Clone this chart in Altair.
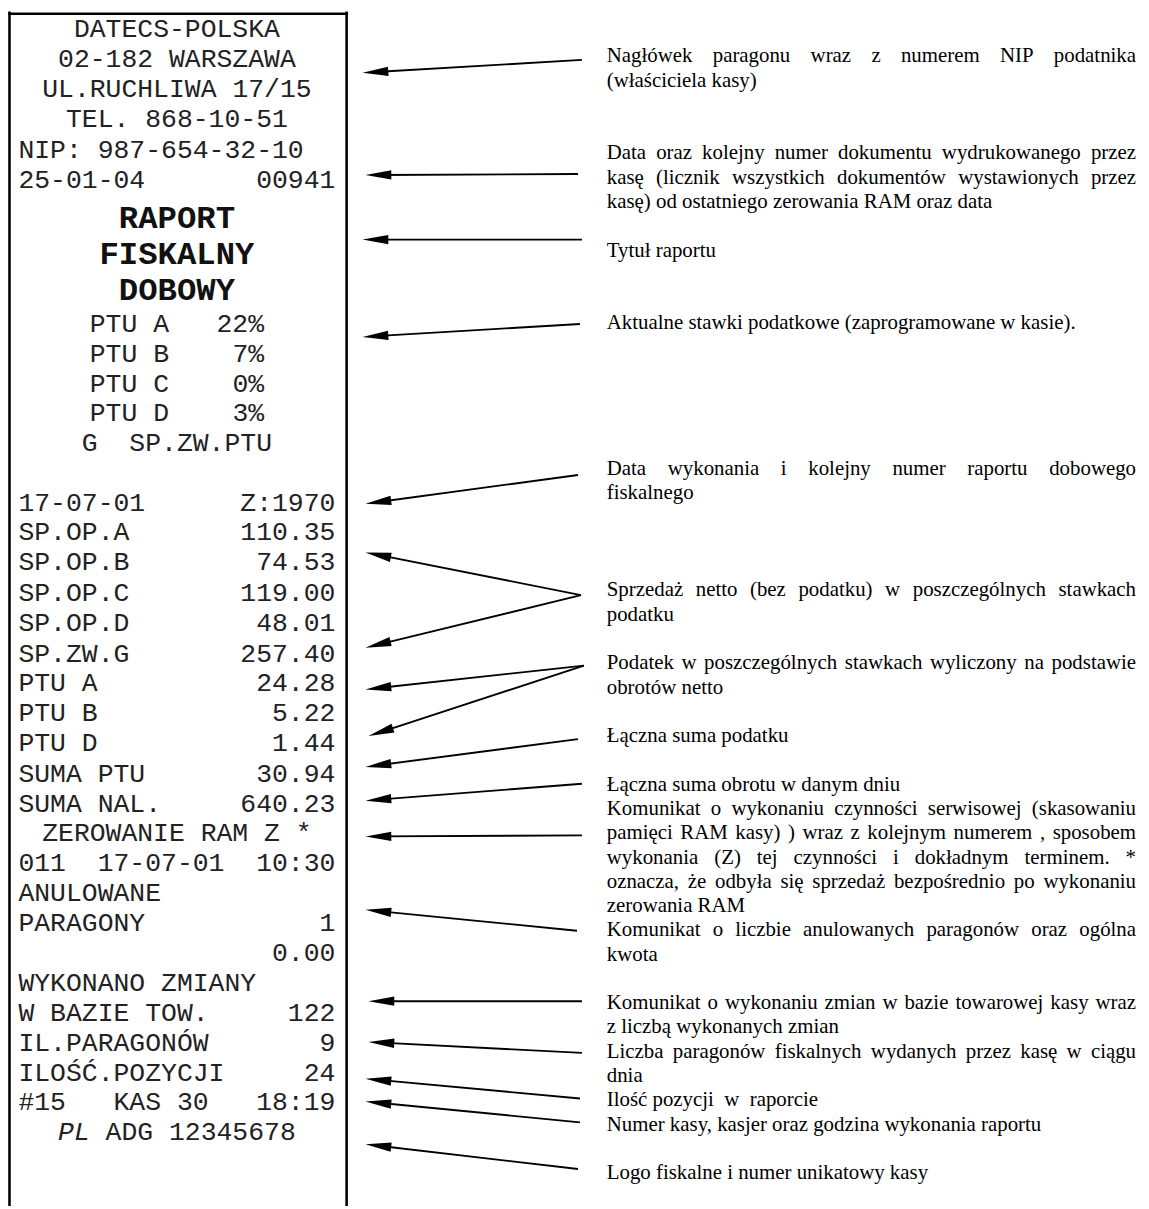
import math
import altair as alt
import pandas as pd

# ---------------- receipt content (20-column printout) ----------------
receipt_text = [
    "DATECS-POLSKA",
    "02-182 WARSZAWA",
    "UL.RUCHLIWA 17/15",
    "TEL. 868-10-51",
    "NIP: 987-654-32-10",
    "25-01-04       00941",
    "RAPORT",
    "FISKALNY",
    "DOBOWY",
    "PTU A   22%",
    "PTU B    7%",
    "PTU C    0%",
    "PTU D    3%",
    "G  SP.ZW.PTU",
    "17-07-01      Z:1970",
    "SP.OP.A       110.35",
    "SP.OP.B        74.53",
    "SP.OP.C       119.00",
    "SP.OP.D        48.01",
    "SP.ZW.G       257.40",
    "PTU A          24.28",
    "PTU B           5.22",
    "PTU D           1.44",
    "SUMA PTU       30.94",
    "SUMA NAL.     640.23",
    "ZEROWANIE RAM Z *",
    "011  17-07-01  10:30",
    "ANULOWANE",
    "PARAGONY           1",
    "                0.00",
    "WYKONANO ZMIANY",
    "W BAZIE TOW.     122",
    "IL.PARAGONÓW       9",
    "ILOŚĆ.POZYCJI     24",
    "#15   KAS 30   18:19",
    "PL ADG 12345678",
]
# c = centred, l = left (fixed columns), t = bold title, p = fiscal logo line
receipt_kind = ["c", "c", "c", "c", "l", "l", "t", "t", "t",
                "c", "c", "c", "c", "c",
                "l", "l", "l", "l", "l", "l", "l", "l", "l", "l", "l",
                "c",
                "l", "l", "l", "l", "l", "l", "l", "l", "l",
                "p"]
receipt_row_y = [24.5, 55, 85.5, 116, 146.5, 177,
                 215, 252, 288,
                 322, 352, 382, 412, 442,
                 502, 532, 562, 593, 623, 654, 684, 714, 744, 775, 805,
                 835, 865, 895, 925, 955, 986, 1016, 1046, 1076, 1106, 1136]

# ---------------- annotations ----------------
annot_paragraphs = [
    ["Nagłówek paragonu wraz z numerem NIP podatnika", "(właściciela kasy)"],
    ["Data oraz kolejny numer dokumentu wydrukowanego przez",
     "kasę (licznik wszystkich dokumentów wystawionych przez",
     "kasę) od ostatniego zerowania RAM oraz data"],
    ["Tytuł raportu"],
    ["Aktualne stawki podatkowe (zaprogramowane w kasie)."],
    ["Data wykonania i kolejny numer raportu dobowego", "fiskalnego"],
    ["Sprzedaż netto (bez podatku) w poszczególnych stawkach", "podatku"],
    ["Podatek w poszczególnych stawkach wyliczony na podstawie", "obrotów netto"],
    ["Łączna suma podatku"],
    ["Łączna suma obrotu w danym dniu"],
    ["Komunikat o wykonaniu czynności serwisowej (skasowaniu",
     "pamięci RAM kasy) ) wraz z kolejnym numerem , sposobem",
     "wykonania (Z) tej czynności i dokładnym terminem. *",
     "oznacza, że odbyła się sprzedaż bezpośrednio po wykonaniu",
     "zerowania RAM"],
    ["Komunikat o liczbie anulowanych paragonów oraz ogólna", "kwota"],
    ["Komunikat o wykonaniu zmian w bazie towarowej kasy wraz",
     "z liczbą wykonanych zmian"],
    ["Liczba paragonów fiskalnych wydanych przez kasę w ciągu", "dnia"],
    ["Ilość pozycji  w  raporcie"],
    ["Numer kasy, kasjer oraz godzina wykonania raportu"],
    ["Logo fiskalne i numer unikatowy kasy"],
]
annot_start_line = [0, 4, 8, 11, 17, 22, 25, 28, 30, 31, 36, 39, 41, 43, 44, 46]

# ---------------- arrows (tail -> tip) ----------------
arrow_tail_x = [586, 582, 586, 584, 582, 585, 585, 588, 588, 582, 586, 586, 581, 586, 586, 584, 584, 582]
arrow_tail_y = [56, 171, 237, 322, 474, 595, 595, 666, 666, 740, 785, 837, 933, 1004, 1056, 1102, 1126, 1173]
arrow_tip_x = [365, 368, 365, 365, 368, 368, 368, 368, 371, 368, 368, 368, 368, 371, 371, 368, 368, 368]
arrow_tip_y = [69, 172, 237, 335, 503, 552, 648, 690, 737, 768, 802, 838, 912, 1004, 1045, 1082, 1105, 1148]

# ---------------- layout / style constants ----------------
W, H = 1141, 1201
MONO = "Liberation Mono"
SERIF = "Liberation Serif"
MONO_SIZE = 26.6
TITLE_SIZE = 32.5
SERIF_SIZE = 21
COL0 = 18.5
PITCH = MONO_SIZE * 0.6
COLS = 20
ANN_L, ANN_R = 611.0, 1144.0
ANN_Y0, ANN_PITCH = 52.5, 24.45
RECEIPT_COLOR = "#222222"

TIMES_W = {' ': 250, '!': 333, '"': 408, '#': 500, '%': 833, '(': 333, ')': 333, '*': 500,
           ',': 250, '-': 333, '.': 250, '/': 278, ':': 278, ';': 278,
           'A': 722, 'B': 667, 'C': 667, 'D': 722, 'E': 611, 'F': 556, 'G': 722, 'H': 722,
           'I': 333, 'J': 389, 'K': 722, 'L': 611, 'M': 889, 'N': 722, 'O': 722, 'P': 556,
           'Q': 722, 'R': 667, 'S': 556, 'T': 611, 'U': 722, 'V': 722, 'W': 944, 'X': 722,
           'Y': 722, 'Z': 611,
           'a': 444, 'b': 500, 'c': 444, 'd': 500, 'e': 444, 'f': 333, 'g': 500, 'h': 500,
           'i': 278, 'j': 278, 'k': 500, 'l': 278, 'm': 778, 'n': 500, 'o': 500, 'p': 500,
           'q': 500, 'r': 333, 's': 389, 't': 278, 'u': 500, 'v': 500, 'w': 722, 'x': 500,
           'y': 500, 'z': 444,
           'ą': 444, 'ć': 444, 'ę': 444, 'ł': 278, 'ń': 500, 'ó': 500, 'ś': 389, 'ź': 444,
           'ż': 444, 'Ł': 611, 'Ś': 556, 'Ż': 611, 'Ó': 722}


def tw(s):
    return sum(TIMES_W.get(ch, 500) for ch in s) / 1000.0 * SERIF_SIZE


# ---- receipt runs ----
mono_rows, italic_rows, title_rows = [], [], []
for text, kind, y in zip(receipt_text, receipt_kind, receipt_row_y):
    if kind == "t":
        title_rows.append({"x": COL0 + PITCH * COLS / 2, "y": y, "text": text})
        continue
    start = 0.0 if kind == "l" else (COLS - len(text)) / 2.0
    i, first = 0, True
    while i < len(text):
        if text[i] == " ":
            i += 1
            continue
        j = i
        while j < len(text) and text[j] != " ":
            j += 1
        run = {"x": COL0 + (start + i) * PITCH, "y": y, "text": text[i:j]}
        if kind == "p" and first:
            italic_rows.append(run)
        else:
            mono_rows.append(run)
        first = False
        i = j

# ---- annotation words (justified like the original) ----
ann_left, ann_right = [], []
for para, start_line in zip(annot_paragraphs, annot_start_line):
    for k, line in enumerate(para):
        y = ANN_Y0 + ANN_PITCH * (start_line + k)
        last = k == len(para) - 1
        if last:
            ann_left.append({"x": ANN_L, "y": y, "text": line.replace("  ", " \u00a0")})
            continue
        words = line.split(" ")
        total = sum(tw(w) for w in words)
        gap = (ANN_R - ANN_L - total) / (len(words) - 1)
        xpos = ANN_L
        for n, w in enumerate(words):
            if n == len(words) - 1:
                ann_right.append({"x": ANN_R, "y": y, "text": w})
            else:
                ann_left.append({"x": xpos, "y": y, "text": w})
            xpos += tw(w) + gap

# ---- arrows ----
HEAD_LEN = 26.0
line_rows, head_rows = [], []
for tx, ty, px, py in zip(arrow_tail_x, arrow_tail_y, arrow_tip_x, arrow_tip_y):
    dx, dy = px - tx, py - ty
    d = math.hypot(dx, dy)
    ux, uy = dx / d, dy / d
    cx, cy = px - ux * HEAD_LEN / 2, py - uy * HEAD_LEN / 2
    ang = math.degrees(math.atan2(-uy, -ux)) % 360
    line_rows.append({"x": tx, "y": ty, "x2": cx, "y2": cy})
    head_rows.append({"x": cx, "y": cy, "angle": ang})

# ---- receipt border ----
border_rows = [
    {"x": 9.5, "y": 9.5, "x2": 349, "y2": 9.5},
    {"x": 9.5, "y": 8.5, "x2": 9.5, "y2": 1209},
    {"x": 349, "y": 8.5, "x2": 349, "y2": 1209},
]

xs = alt.Scale(domain=[8, 8 + W], nice=False, zero=False)
ys = alt.Scale(domain=[8, 8 + H], nice=False, zero=False, reverse=True)


def X(f):
    return alt.X(f, type="quantitative", scale=xs, axis=None)


def Y(f):
    return alt.Y(f, type="quantitative", scale=ys, axis=None)


border = alt.Chart(pd.DataFrame(border_rows)).mark_rule(
    color="black", strokeWidth=2.6, strokeCap="square"
).encode(x=X("x"), y=Y("y"), x2="x2", y2="y2")

arrow_lines = alt.Chart(pd.DataFrame(line_rows)).mark_rule(
    color="black", strokeWidth=1.9
).encode(x=X("x"), y=Y("y"), x2="x2", y2="y2")

arrow_heads = alt.Chart(pd.DataFrame(head_rows)).mark_point(
    shape="M -1 0 L 1 -0.36 L 1 0.36 Z", filled=True, size=HEAD_LEN ** 2,
    color="black", opacity=1, strokeWidth=0
).encode(x=X("x"), y=Y("y"), angle=alt.Angle("angle:Q", scale=None))

mono_text = alt.Chart(pd.DataFrame(mono_rows)).mark_text(
    align="left", baseline="middle", font=MONO, fontSize=MONO_SIZE, color=RECEIPT_COLOR
).encode(x=X("x"), y=Y("y"), text="text:N")

italic_text = alt.Chart(pd.DataFrame(italic_rows)).mark_text(
    align="left", baseline="middle", font=MONO, fontSize=MONO_SIZE, fontStyle="italic",
    color=RECEIPT_COLOR
).encode(x=X("x"), y=Y("y"), text="text:N")

title_text = alt.Chart(pd.DataFrame(title_rows)).mark_text(
    align="center", baseline="middle", font=MONO, fontSize=TITLE_SIZE, fontWeight="bold",
    color="#111111"
).encode(x=X("x"), y=Y("y"), text="text:N")

ann_l = alt.Chart(pd.DataFrame(ann_left)).mark_text(
    align="left", baseline="middle", font=SERIF, fontSize=SERIF_SIZE, color="black"
).encode(x=X("x"), y=Y("y"), text="text:N")

ann_r = alt.Chart(pd.DataFrame(ann_right)).mark_text(
    align="right", baseline="middle", font=SERIF, fontSize=SERIF_SIZE, color="black"
).encode(x=X("x"), y=Y("y"), text="text:N")

chart = alt.layer(
    border, arrow_lines, arrow_heads, mono_text, italic_text, title_text, ann_l, ann_r
).properties(
    width=W, height=H, padding=0,
    autosize=alt.AutoSizeParams(type="none"),
    background="white",
).configure_view(stroke=None)

chart.save("out.html", embed_options={"renderer": "svg", "actions": False})
